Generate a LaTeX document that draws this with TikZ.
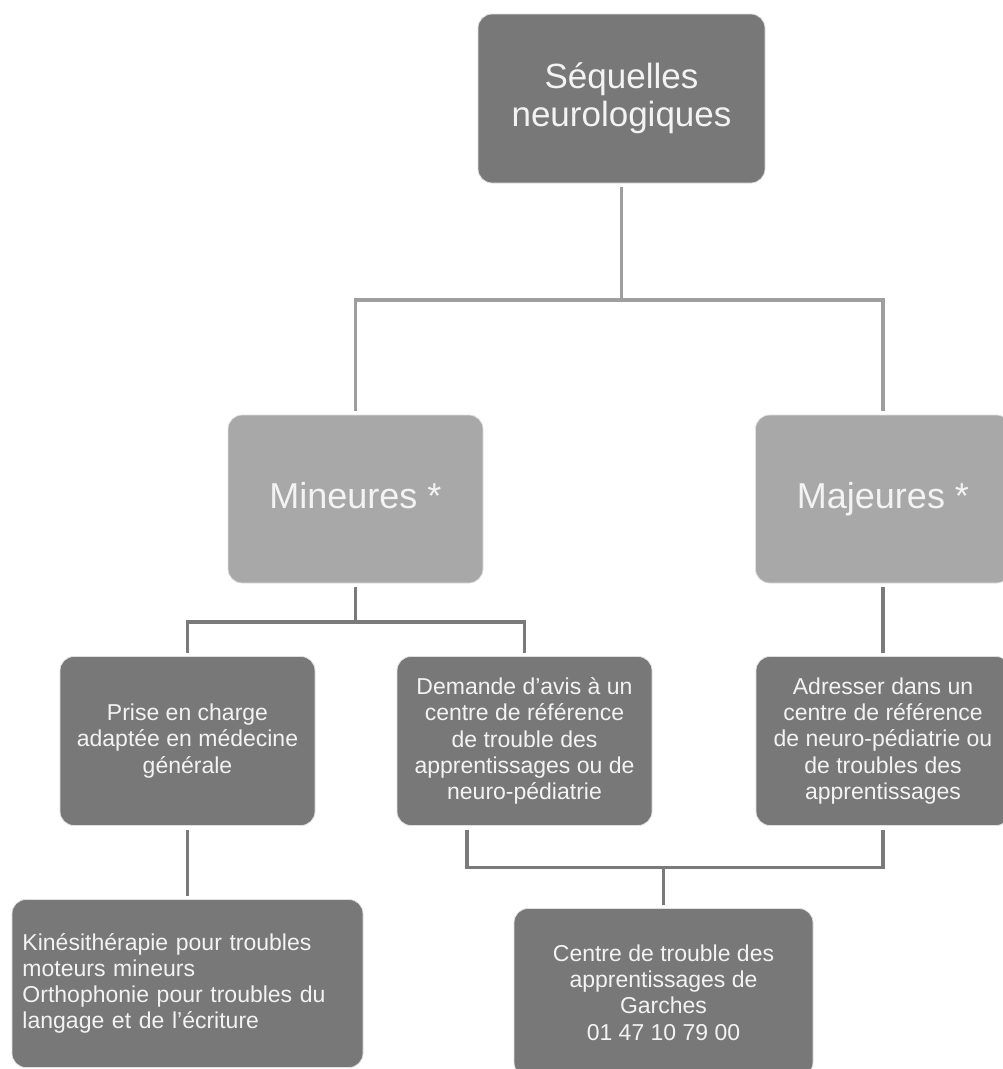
\documentclass[tikz,border=0pt]{standalone}
\usepackage{fontspec}
\setmainfont{Liberation Sans}
\usetikzlibrary{positioning}
\definecolor{boxdark}{RGB}{120,120,120}
\definecolor{boxlight}{RGB}{168,168,168}
\definecolor{boxtext}{RGB}{243,243,243}
\definecolor{linedark}{RGB}{122,122,122}
\definecolor{linelight}{RGB}{158,158,158}
\tikzstyle{boxbase} = [rectangle, rounded corners = 14pt, inner sep = 10.5pt, outer sep = 4pt, draw = black!12, line width = 0.8pt, text = boxtext, align = center]
\tikzstyle{darkbox} = [boxbase, fill = boxdark, minimum width = 255pt, minimum height = 169pt, font = \fontsize{23}{26.2}\selectfont]
\tikzstyle{lightbox} = [boxbase, fill = boxlight, minimum width = 255pt, minimum height = 168pt, text height = 26pt, text depth = 8pt, font = \fontsize{36}{38}\selectfont]
\tikzstyle{wire} = [draw = linedark, line width = 3.5pt]
\tikzstyle{topwire} = [draw = linelight, line width = 3.5pt]

\begin{document}
\begin{tikzpicture}[x = 1pt, y = 1pt, node distance = 242pt]
	\path[use as bounding box, clip] (0,0) rectangle (1003,-1069);

	\node (sequelles)[darkbox, minimum width = 287pt, font = \fontsize{35}{38}\selectfont] at (621.5,-98.5) {Séquelles\\neurologiques};
	\node (mineures)[lightbox, below of = sequelles, xshift = -266pt, yshift = -158.5pt]{Mineures *};
	\node (majeures)[lightbox, right of = mineures, xshift = 285.5pt]{Majeures *};
	\node (prise)[darkbox, below of = mineures, xshift = -168pt]{Prise en charge\\adaptée en médecine\\générale};
	\node (demande)[darkbox, right of = prise, xshift = 95pt]{Demande d’avis à un\\centre de référence\\de trouble des\\apprentissages ou de\\neuro-pédiatrie};
	\node (adresser)[darkbox, minimum width = 254pt, below of = majeures]{Adresser dans un\\centre de référence\\de neuro-pédiatrie ou\\de troubles des\\apprentissages};
	\node (kine)[darkbox, align = left, text width = 330pt, minimum height = 168pt, below of = prise, yshift = -0.5pt]{Kinésithérapie pour troubles\\moteurs mineurs\\Orthophonie pour troubles du\\langage et de l’écriture};
	\node (centre)[darkbox, minimum width = 299pt, minimum height = 168pt, below of = demande, xshift = 139pt, yshift = -9.5pt]{Centre de trouble des\\apprentissages de\\Garches\\01 47 10 79 00};

	\coordinate (split1) at ([yshift = -113pt]sequelles.south);
	\coordinate (split2) at ([yshift = -35pt]mineures.south);
	\coordinate (split3) at ([yshift = 37pt]centre.north);

	\draw [topwire] (sequelles.south) -- (split1);
	\draw [topwire] (mineures.north) |- (split1) -| (majeures.north);

	\draw [wire] (mineures.south) -- (split2);
	\draw [wire] (prise.north) |- (split2) -| (demande.north);
	\draw [wire] (majeures.south) -- (adresser.north);
	\draw [wire] (prise.south) -- (kine.north);

	\draw [wire] (centre.north) -- (split3);
	\draw [wire] ([xshift = -57.5pt]demande.south) |- (split3) -| (adresser.south);
\end{tikzpicture}
\end{document}
